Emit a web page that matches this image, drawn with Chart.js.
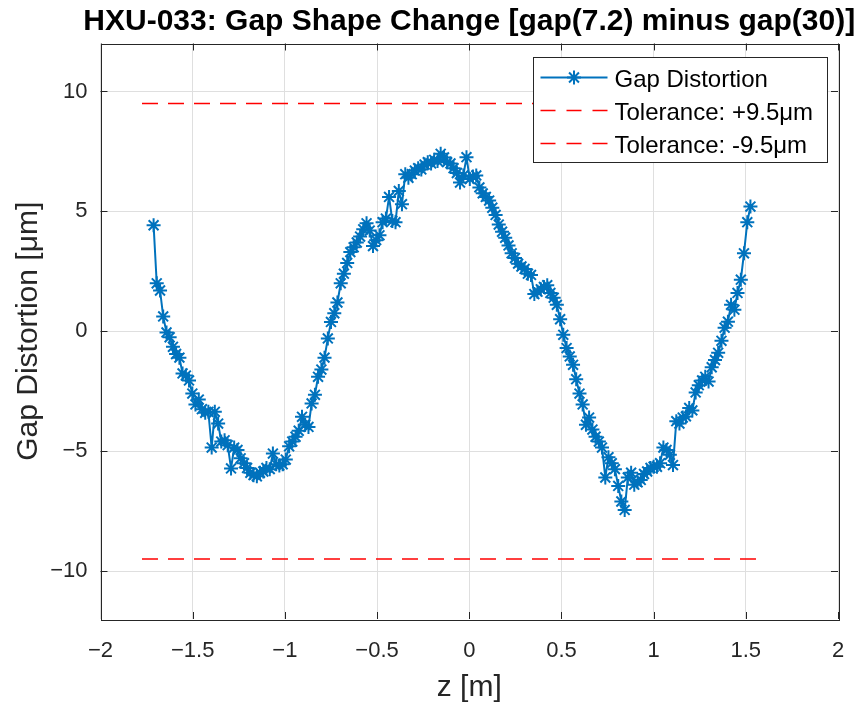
<!DOCTYPE html>
<html>
<head>
<meta charset="utf-8">
<script src="https://cdn.jsdelivr.net/npm/chart.js@4.4.1/dist/chart.umd.min.js"></script>
<style>
body { margin: 0; background: #fff; }
#wrap { width: 858px; height: 711px; }
</style>
</head>
<body>
<div id="wrap"><canvas id="myChart"></canvas></div>
<script>
// z position along the undulator [m]
const zPos = [
    -1.712,-1.695,-1.677,-1.660,-1.642,-1.625,-1.607,-1.590,-1.572,-1.555,
    -1.537,-1.520,-1.502,-1.485,-1.467,-1.450,-1.432,-1.415,-1.397,-1.380,
    -1.362,-1.345,-1.327,-1.310,-1.292,-1.275,-1.257,-1.240,-1.222,-1.205,
    -1.187,-1.170,-1.152,-1.135,-1.117,-1.100,-1.082,-1.065,-1.047,-1.030,
    -1.012,-0.995,-0.977,-0.960,-0.942,-0.925,-0.907,-0.890,-0.872,-0.855,
    -0.837,-0.820,-0.802,-0.785,-0.767,-0.750,-0.732,-0.715,-0.697,-0.680,
    -0.662,-0.645,-0.627,-0.610,-0.592,-0.575,-0.557,-0.540,-0.522,-0.505,
    -0.487,-0.470,-0.452,-0.435,-0.417,-0.400,-0.382,-0.365,-0.347,-0.330,
    -0.312,-0.295,-0.277,-0.260,-0.242,-0.225,-0.207,-0.190,-0.172,-0.155,
    -0.137,-0.120,-0.102,-0.085,-0.067,-0.050,-0.032,-0.015,0.003,0.020,
    0.038,0.055,0.073,0.090,0.108,0.125,0.143,0.160,0.178,0.195,
    0.213,0.230,0.248,0.265,0.283,0.300,0.318,0.335,0.353,0.370,
    0.388,0.405,0.423,0.440,0.458,0.475,0.493,0.510,0.528,0.545,
    0.563,0.580,0.598,0.615,0.633,0.650,0.668,0.685,0.703,0.720,
    0.738,0.755,0.773,0.790,0.808,0.825,0.843,0.860,0.878,0.895,
    0.913,0.930,0.948,0.965,0.983,1.000,1.018,1.035,1.053,1.070,
    1.088,1.105,1.123,1.140,1.158,1.175,1.193,1.210,1.228,1.245,
    1.263,1.280,1.298,1.315,1.333,1.350,1.368,1.385,1.403,1.420,
    1.438,1.455,1.473,1.490,1.508,1.525
];

// gap(7.2) - gap(30) [um]
const gapDist = [
    4.42, 2.00, 1.70, 0.62, -0.05, -0.25, -0.65, -0.95, -1.10, -1.76,
    -1.85, -2.05, -2.60, -3.05, -2.85, -3.25, -3.40, -3.36, -4.85, -3.36,
    -3.85, -4.60, -4.55, -4.75, -5.72, -4.85, -4.95, -5.30, -5.50, -5.70,
    -5.90, -6.00, -6.05, -5.90, -5.85, -5.70, -5.75, -5.10, -5.55, -5.60,
    -5.55, -5.35, -4.80, -4.60, -4.40, -4.15, -3.57, -3.90, -3.99, -3.01,
    -2.65, -1.90, -1.60, -1.10, -0.30, 0.39, 0.75, 1.20, 2.00, 2.40,
    2.85, 3.30, 3.50, 3.70, 3.95, 4.25, 4.50, 4.20, 3.55, 3.80,
    4.00, 4.55, 4.70, 5.60, 4.60, 4.55, 5.85, 5.30, 6.55, 6.40,
    6.55, 6.70, 6.80, 6.75, 6.95, 7.05, 7.00, 7.15, 7.10, 7.40,
    7.25, 7.05, 7.00, 6.80, 6.60, 6.20, 6.50, 7.26, 6.35, 6.45,
    6.50, 6.00, 5.75, 5.60, 5.45, 5.15, 4.85, 4.45, 4.15, 3.90,
    3.58, 3.25, 3.05, 2.82, 2.70, 2.60, 2.40, 2.35, 1.55, 1.65,
    1.75, 1.85, 1.92, 1.60, 1.40, 1.10, 0.50, -0.15, -0.70, -1.05,
    -1.40, -2.00, -2.60, -3.05, -3.90, -3.60, -4.10, -4.40, -4.60, -4.85,
    -6.10, -5.25, -5.50, -5.75, -6.45, -7.10, -7.45, -6.10, -5.90, -6.40,
    -6.30, -6.20, -5.95, -5.85, -5.70, -5.65, -5.65, -5.50, -4.85, -4.95,
    -5.15, -5.58, -3.75, -3.85, -3.60, -3.55, -3.20, -3.30, -2.55, -2.25,
    -2.05, -1.90, -2.10, -1.50, -1.20, -0.90, -0.40, 0.15, 0.40, 1.10,
    0.90, 1.60, 2.15, 3.25, 4.55, 5.20
];

const tolZ = [-1.775, 1.56];
const tolUpper = [9.5, 9.5];
const tolLower = [-9.5, -9.5];

const xTicks = [-2, -1.5, -1, -0.5, 0, 0.5, 1, 1.5, 2];
const yTicks = [-10, -5, 0, 5, 10];

const seriesLabels = ["Gap Distortion", "Tolerance: +9.5μm", "Tolerance: -9.5μm"];
const chartTitle = "HXU-033: Gap Shape Change [gap(7.2) minus gap(30)]";

const blue = "#0072BD";
const red = "#ff0000";
const axisColor = "#262626";
const FONT = "'Liberation Sans', Arial, Helvetica, sans-serif";

Chart.defaults.font.family = FONT;
Chart.defaults.color = axisColor;

function toPoints(xs, ys) {
    return xs.map((x, i) => ({x: x, y: ys[i]}));
}

// tick labels with a real minus sign, like matlab prints them
function tickText(v) {
    return String(v).replace('-', '\u2212');
}

// matlab style: closed box, ticks pointing inwards on all four sides
const boxPlugin = {
    id: 'boxAxes',
    afterDatasetsDraw(chart) {
        const {ctx, chartArea, scales} = chart;
        const tl = 7;
        ctx.save();
        ctx.strokeStyle = axisColor;
        ctx.lineWidth = 1;
        ctx.beginPath();
        for (const v of xTicks) {
            const px = Math.round(scales.x.getPixelForValue(v)) + 0.5;
            ctx.moveTo(px, chartArea.bottom);
            ctx.lineTo(px, chartArea.bottom - tl);
            ctx.moveTo(px, chartArea.top);
            ctx.lineTo(px, chartArea.top + tl);
        }
        for (const v of yTicks) {
            const py = Math.round(scales.y.getPixelForValue(v)) + 0.5;
            ctx.moveTo(chartArea.left, py);
            ctx.lineTo(chartArea.left + tl, py);
            ctx.moveTo(chartArea.right, py);
            ctx.lineTo(chartArea.right - tl, py);
        }
        ctx.stroke();
        ctx.strokeRect(Math.round(chartArea.left) + 0.5, Math.round(chartArea.top) + 0.5,
            Math.round(chartArea.right - chartArea.left), Math.round(chartArea.bottom - chartArea.top));
        ctx.restore();
    },
    afterDraw(chart) {
        const {ctx, chartArea} = chart;
        ctx.save();
        // title, centred over the axes
        ctx.fillStyle = "#000";
        ctx.font = "bold 30px " + FONT;
        ctx.textAlign = "center";
        ctx.textBaseline = "alphabetic";
        ctx.fillText(chartTitle, (chartArea.left + chartArea.right) / 2, 30);

        // legend box in the upper right corner
        const x0 = Math.round(chartArea.right) - 304.5;
        const y0 = Math.round(chartArea.top) + 13.5;
        ctx.fillStyle = "#fff";
        ctx.fillRect(x0, y0, 294, 105);
        ctx.strokeStyle = axisColor;
        ctx.lineWidth = 1;
        ctx.strokeRect(x0, y0, 294, 105);

        const rowY = [y0 + 20, y0 + 53, y0 + 86];
        const lx0 = x0 + 7, lx1 = x0 + 74;
        ctx.font = "24px " + FONT;
        ctx.textAlign = "left";
        for (let i = 0; i < seriesLabels.length; i++) {
            ctx.beginPath();
            if (i === 0) {
                ctx.strokeStyle = blue;
                ctx.lineWidth = 2;
                ctx.setLineDash([]);
            } else {
                ctx.strokeStyle = red;
                ctx.lineWidth = 1.5;
                ctx.setLineDash([15, 11]);
            }
            ctx.moveTo(lx0, rowY[i]);
            ctx.lineTo(lx1, rowY[i]);
            ctx.stroke();
            ctx.setLineDash([]);
            if (i === 0) {
                ctx.lineWidth = 2;
                Chart.helpers.drawPoint(ctx, {pointStyle: 'star', radius: 7, borderWidth: 2, rotation: 0},
                    (lx0 + lx1) / 2, rowY[i]);
            }
            ctx.fillStyle = "#000";
            ctx.fillText(seriesLabels[i], x0 + 81, rowY[i] + 9.5);
        }
        ctx.restore();
    }
};

const ctx = document.getElementById('myChart');

new Chart(ctx, {
    type: 'scatter',
    data: {
        datasets: [
            {
                label: seriesLabels[0],
                data: toPoints(zPos, gapDist),
                showLine: true,
                borderColor: blue,
                backgroundColor: blue,
                borderWidth: 2,
                pointStyle: 'star',
                pointRadius: 7,
                pointBorderWidth: 2,
                pointHoverRadius: 7,
                tension: 0
            },
            {
                label: seriesLabels[1],
                data: toPoints(tolZ, tolUpper),
                showLine: true,
                borderColor: red,
                borderWidth: 1.5,
                borderDash: [16, 10],
                pointRadius: 0
            },
            {
                label: seriesLabels[2],
                data: toPoints(tolZ, tolLower),
                showLine: true,
                borderColor: red,
                borderWidth: 1.5,
                borderDash: [16, 10],
                pointRadius: 0
            }
        ]
    },
    options: {
        responsive: true,
        maintainAspectRatio: false,
        animation: false,
        events: [],
        layout: {
            padding: {top: 43.5, right: 20, bottom: 0, left: 0}
        },
        plugins: {
            legend: {display: false},
            title: {display: false},
            tooltip: {enabled: false}
        },
        scales: {
            x: {
                type: 'linear',
                min: -2,
                max: 2,
                afterBuildTicks: (scale) => { scale.ticks = xTicks.map(v => ({value: v})); },
                afterFit: (scale) => {
                    scale.height = 92;
                    // tick padding would otherwise eat into the right margin
                    scale.paddingLeft = 0;
                    scale.paddingRight = 0;
                },
                ticks: {
                    font: {size: 22},
                    color: axisColor,
                    padding: 19,
                    maxRotation: 0,
                    callback: tickText
                },
                grid: {
                    color: "#dfdfdf",
                    drawTicks: false
                },
                border: {display: false},
                title: {
                    display: true,
                    text: "z [m]",
                    font: {size: 30},
                    color: axisColor,
                    padding: {top: 0, bottom: 5}
                }
            },
            y: {
                type: 'linear',
                min: -12,
                max: 12,
                afterBuildTicks: (scale) => { scale.ticks = yTicks.map(v => ({value: v})); },
                afterFit: (scale) => { scale.width = 100.5; },
                ticks: {
                    font: {size: 22},
                    color: axisColor,
                    padding: 13,
                    callback: tickText
                },
                grid: {
                    color: "#dfdfdf",
                    drawTicks: false
                },
                border: {display: false},
                title: {
                    display: true,
                    text: "Gap Distortion [μm]",
                    font: {size: 30},
                    color: axisColor,
                    padding: {top: 11, bottom: 0}
                }
            }
        }
    },
    plugins: [boxPlugin]
});
</script>
</body>
</html>
